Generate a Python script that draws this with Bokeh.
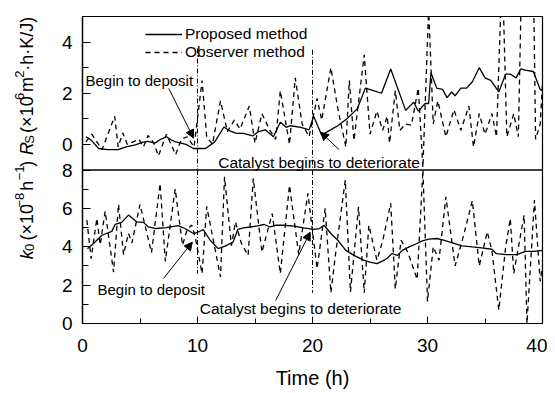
import math
from bokeh.plotting import figure
from bokeh.layouts import row
from bokeh.models import (Range1d, Legend, LegendItem, Arrow, NormalHead, Label, FixedTicker,
                          CustomJSTickFormatter, Span)
from bokeh.core.properties import value
from bokeh.embed import file_html
from bokeh.resources import INLINE

# ---- data ----
t_rs_prop = [0.3, 0.8, 1.4, 2.2, 3.1, 3.8, 4.6, 5.2, 5.7, 6.3, 6.8, 7.3, 7.7, 8.1, 9.0, 9.65, 10.7, 11.5,
             12.3, 12.7, 13.4, 14.0, 14.8, 15.3, 15.9, 16.6, 17.2, 17.7, 18.1, 19.0, 19.7, 20.1, 20.8, 21.3,
             22.2, 23.0, 23.9, 24.6, 25.3, 26.0, 26.8, 28.1, 28.8, 29.2, 29.8, 30.1, 30.3, 30.8, 31.3, 31.7,
             32.1, 32.4, 32.9, 33.4, 33.9, 34.5, 35.0, 35.5, 36.2, 36.8, 37.2, 37.7, 38.1, 38.5, 39.2, 39.8, 40.0]
rs_prop = [0.3, 0.15, -0.16, -0.2, -0.2, -0.1, -0.02, 0.08, 0.12, 0.05, 0.2, 0.3, 0.18, 0.1, 0.0, -0.16, -0.16, 0.1,
           0.68, 0.55, 0.43, 0.43, 0.33, 0.5, 0.57, 0.3, 0.87, 0.67, 0.73, 0.67, 0.57, 1.1, 0.36, 0.5,
           0.73, 1.0, 1.4, 2.2, 2.1, 2.0, 2.95, 1.33, 1.65, 1.3, 1.6, 1.6, 2.8, 2.2, 2.15, 1.83,
           2.05, 1.9, 2.2, 2.2, 2.45, 3.0, 2.6, 2.5, 2.05, 2.75, 2.75, 2.6, 2.95, 2.9, 2.85, 2.15, 2.1]

t_rs_obs = [0.3, 0.8, 1.7, 2.8, 3.1, 3.5, 3.9, 4.4, 4.9, 5.3, 5.7, 6.2, 6.6, 7.3, 8.1, 8.6, 9.1, 9.7, 10.4, 10.8,
            11.3, 12.0, 12.6, 13.2, 13.7, 14.5, 15.0, 15.6, 16.3, 16.8, 17.2, 18.0, 18.5, 19.1, 19.7, 20.4, 20.8,
            21.6, 22.2, 22.9, 23.2, 23.6, 24.5, 25.0, 25.6, 26.1, 26.5, 26.7, 27.2, 27.6, 28.1, 28.6, 29.2, 29.6,
            30.1, 30.5, 30.9, 31.6, 32.3, 32.9, 33.6, 34.0, 34.5, 35.0, 35.6, 36.0, 36.5, 36.9, 37.5, 37.9, 38.8,
            39.4, 39.8, 40.0]
rs_obs = [0.1, 0.4, -0.2, 1.1, -0.1, 0.45, 0.0, 0.1, 0.2, -0.1, 0.35, 0.05, -0.45, 0.4, -0.4, 0.2, 0.3, -0.1, 2.5, 0.3,
          0.0, 1.7, 0.5, 0.95, 0.6, 1.5, 0.05, 1.2, 0.55, 0.2, 2.1, 0.0, 2.6, 0.8, 0.3, 1.8, 0.95,
          3.0, 1.4, -0.1, 2.5, 0.15, 3.5, 0.4, 1.3, 0.55, 1.1, 0.05, 2.1, 0.55, 0.8, 0.75, 2.2, -0.9,
          5.3, 0.8, 1.7, 0.3, 1.35, 0.55, 1.5, -0.1, 1.2, 0.4, 1.2, 0.3, 7.0, 0.3, 1.2, 0.3, 20.0,
          0.2, 0.8, 2.4]

t_k0_prop = [0.43, 0.96, 1.68, 2.55, 2.84, 3.4, 4.0, 4.7, 5.3, 5.7, 6.4, 7.3, 8.3, 8.9, 9.65, 10.1, 10.5, 11.1,
             11.8, 12.4, 13.1, 13.5, 14.0, 14.6, 15.2, 15.8, 16.3, 16.8, 17.5, 18.4, 19.2, 20.1, 20.6, 21.0,
             21.6, 22.2, 22.9, 23.6, 24.5, 25.0, 25.6, 26.2, 26.5, 26.9, 27.4, 27.8, 28.4, 29.1, 29.5, 30.1,
             30.8, 31.4, 32.1, 33.0, 33.9, 34.7, 35.6, 36.0, 36.8, 37.8, 38.5, 39.2, 40.0]
k0_prop = [3.9, 4.17, 4.6, 4.8, 5.16, 5.27, 5.65, 5.3, 5.27, 5.04, 4.95, 5.0, 5.1, 4.95, 4.69, 4.77, 4.9, 4.34,
           3.9, 4.03, 4.25, 4.9, 4.98, 5.03, 5.09, 5.16, 5.03, 5.12, 5.12, 5.07, 4.98, 4.91, 4.95, 5.12,
           4.69, 4.34, 3.81, 3.55, 3.29, 3.2, 3.12, 3.29, 3.4, 3.64, 3.55, 3.81, 3.99, 4.17, 4.29, 4.4,
           4.43, 4.34, 4.22, 4.05, 3.99, 3.94, 3.87, 3.64, 3.59, 3.59, 3.76, 3.76, 3.81]

t_k0_obs = [0.38, 0.75, 1.25, 1.54, 1.97, 2.7, 3.13, 3.57, 4.0, 4.3, 5.0, 6.0, 6.75, 7.2, 8.06, 8.7, 9.1, 9.5, 9.8,
            10.4, 10.8, 12.0, 12.35, 12.95, 13.3, 13.8, 14.4, 14.85, 15.6, 16.5, 17.2, 18.0, 18.8, 19.6, 20.4,
            21.1, 21.6, 22.0, 22.85, 23.3, 24.0, 24.5, 24.9, 25.6, 26.1, 26.8, 27.2, 27.7, 28.3, 29.1, 29.6,
            30.0, 30.5, 31.0, 31.6, 32.4, 33.1, 33.9, 34.5, 35.2, 35.6, 36.2, 36.8, 37.2, 37.5, 38.4, 38.65,
            39.3, 39.8, 40.0]
k0_obs = [5.39, 3.38, 5.48, 4.1, 5.85, 2.68, 6.21, 3.59, 4.7, 4.2, 6.21, 3.69, 7.3, 3.24, 7.01, 4.08, 4.9, 5.13, 4.5,
          2.6, 6.1, 2.43, 7.65, 4.05, 5.3, 4.2, 3.55, 7.56, 3.72, 5.73, 2.6, 7.2, 3.6, 6.78, 2.86,
          6.0, 1.6, 3.6, 7.47, 1.64, 6.08, 1.6, 5.12, 3.3, 4.3, 6.26, 1.8, 4.34, 3.7, 2.3, 8.0,
          1.15, 4.0, 3.3, 6.6, 3.0, 4.5, 6.4, 3.0, 4.78, 3.8, 0.7, 4.0, 5.47, 2.6, 5.65, 0.0,
          6.43, 2.2, 3.0]

event_times = [10, 20]
rs_event_top = [3.75, 3.7]
k0_event_bottom = [2.6, 1.6]

x_ticks = [0, 10, 20, 30, 40]
x_minor = [5, 15, 25, 35]
rs_ticks = [0, 2, 4]
rs_minor = [1, 3, 5]
k0_ticks = [0, 2, 4, 6, 8]
k0_minor = [1, 3, 5, 7]

# title pieces: text, font style, size kind, vertical shift kind, gap before it (px)
rs_title = [("R", "italic", "main", "base", 0), ("S", "normal", "small", "sub", 0.5),
            ("(×10", "normal", "main", "base", 4.5), ("6", "normal", "small", "sup", 2.5),
            ("m", "normal", "main", "base", 2.5), ("2", "normal", "small", "sup", 2),
            ("·h·K/J)", "normal", "main", "base", 1)]
k0_title = [("k", "italic", "main", "base", 0), ("0", "normal", "small", "sub", 1),
            ("(×10", "normal", "main", "base", 5.5), ("−8", "normal", "small", "sup", 2.5),
            ("h", "normal", "main", "base", 5.5), ("−1", "normal", "small", "sup", 2.5),
            (")", "normal", "main", "base", 1.5)]

FONT = "Liberation Sans"
H = 392          # canvas height
LEFT_W = 48      # width of the strip holding the rotated axis titles

# Two stacked panels share one frame: Rs uses the top half of range (-7, 5),
# k0 uses the bottom half of range (0, 16).
RS_LO, RS_HI = -7, 5
K0_LO, K0_HI = 0, 16
RS_SPLIT = -1


def k0_to_rs(k):
    return RS_LO + (k - K0_LO) * (RS_HI - RS_LO) / (K0_HI - K0_LO)


p = figure(width=547 - LEFT_W, height=H, x_range=Range1d(0, 40), y_range=Range1d(RS_LO, RS_HI),
           output_backend="svg", toolbar_location=None,
           min_border_left=82 - LEFT_W, min_border_right=5, min_border_top=16, min_border_bottom=69)
p.extra_y_ranges = {"k0": Range1d(K0_LO, K0_HI)}
p.grid.visible = False
p.outline_line_color = "black"
p.outline_line_width = 1.2
p.background_fill_color = "white"
p.border_fill_color = "white"

ya = p.yaxis[0]
ya.ticker = FixedTicker(ticks=rs_ticks + [k0_to_rs(k) for k in k0_ticks],
                        minor_ticks=rs_minor + [k0_to_rs(k) for k in k0_minor])
ya.formatter = CustomJSTickFormatter(code="""
if (tick < -0.999) { return ((tick + 7) / 0.75).toFixed(0); }
return tick.toFixed(0);
""")
ya.major_tick_in = 8
ya.major_tick_out = 0
ya.minor_tick_in = 6
ya.minor_tick_out = 0
ya.major_label_standoff = 10
ya.major_label_text_font = FONT
ya.major_label_text_font_size = "19px"
ya.major_label_text_color = "black"
ya.axis_line_color = "black"
ya.axis_line_width = 1.3

xa = p.xaxis[0]
xa.ticker = FixedTicker(ticks=x_ticks, minor_ticks=x_minor)
xa.major_tick_in = 7
xa.major_tick_out = 0
xa.minor_tick_in = 5
xa.minor_tick_out = 0
xa.major_label_standoff = 15
xa.axis_label = "Time (h)"
xa.axis_label_standoff = 12
xa.major_label_text_font = FONT
xa.major_label_text_font_size = "19px"
xa.major_label_text_color = "black"
xa.axis_label_text_font = FONT
xa.axis_label_text_font_size = "20px"
xa.axis_label_text_font_style = "normal"
xa.axis_label_text_color = "black"
xa.axis_line_color = "black"

p.add_layout(Span(location=RS_SPLIT, dimension="width", line_color="black", line_width=1.3))

# ---- top panel: Rs ----
r1 = p.line(t_rs_prop, rs_prop, line_color="black", line_width=1.3)
r2 = p.line(t_rs_obs, rs_obs, line_color="black", line_width=1.3, line_dash="5 4")
p.segment(x0=event_times, y0=rs_event_top, x1=event_times, y1=[RS_SPLIT] * len(event_times),
          line_color="black", line_width=1, line_dash="5 2 1 2")

legend = Legend(items=[LegendItem(label="Proposed method", renderers=[r1]),
                       LegendItem(label="Observer method", renderers=[r2])],
                location=(63, 262), border_line_alpha=0, background_fill_alpha=0,
                padding=0, margin=0, spacing=0, glyph_width=37, glyph_height=18,
                label_height=18, label_standoff=3, label_text_font=FONT,
                label_text_font_size="15.5px", label_text_color="black")
p.add_layout(legend)

p.add_layout(Label(x=0.26, y=2.5, text="Begin to deposit", text_baseline="middle",
                   text_font=FONT, text_font_size="15px", text_color="black"))
p.add_layout(Arrow(end=NormalHead(size=8, fill_color="black", line_color="black"),
                   x_start=7.5, y_start=2.19, x_end=9.65, y_end=0.25, line_width=1))
p.add_layout(Label(x=11.8, y=-0.72, text="Catalyst begins to deteriorate", text_baseline="middle",
                   text_font=FONT, text_font_size="15.5px", text_color="black"))
p.add_layout(Arrow(end=NormalHead(size=8, fill_color="black", line_color="black"),
                   x_start=22.3, y_start=-0.2, x_end=20.7, y_end=0.48, line_width=1))

# ---- bottom panel: k0 ----
p.line(t_k0_prop, k0_prop, line_color="black", line_width=1.3, y_range_name="k0")
p.line(t_k0_obs, k0_obs, line_color="black", line_width=1.3, line_dash="5 4", y_range_name="k0")
p.segment(x0=event_times, y0=[8] * len(event_times), x1=event_times, y1=k0_event_bottom,
          line_color="black", line_width=1, line_dash="5 2 1 2", y_range_name="k0")

p.add_layout(Label(x=1.3, y=1.78, text="Begin to deposit", text_baseline="middle", y_range_name="k0",
                   text_font=FONT, text_font_size="15px", text_color="black"))
p.add_layout(Arrow(end=NormalHead(size=8, fill_color="black", line_color="black"),
                   x_start=7.05, y_start=2.35, x_end=9.55, y_end=4.24, line_width=1, y_range_name="k0"))
p.add_layout(Label(x=10.2, y=0.78, text="Catalyst begins to deteriorate", text_baseline="middle",
                   y_range_name="k0", text_font=FONT, text_font_size="15.5px", text_color="black"))
p.add_layout(Arrow(end=NormalHead(size=8, fill_color="black", line_color="black"),
                   x_start=16.8, y_start=1.2, x_end=19.8, y_end=4.76, line_width=1, y_range_name="k0"))

# ---- strip with the rotated y-axis titles (pixel coordinates, origin bottom-left) ----
t = figure(width=LEFT_W, height=H, x_range=Range1d(0, LEFT_W), y_range=Range1d(0, H),
           output_backend="svg", toolbar_location=None, x_axis_location=None, y_axis_location=None,
           min_border=0, outline_line_color=None)
t.grid.visible = False
t.background_fill_color = "white"
t.border_fill_color = "white"

W = {"R": .722, "S": .667, " ": .278, "(": .333, "×": .584, "1": .556, "0": .556, "6": .556, "m": .833,
     "2": .556, "·": .333, "h": .556, "K": .667, "/": .278, "J": .5, ")": .333, "k": .5, "−": .584, "8": .556}
WIDTH_FACTOR = 1.08
SIZES = {"main": 18, "small": 13}
SHIFT = {"base": 0, "sub": 3, "sup": -7}
BASE_X = 26


def rotated_title(pieces, start_from_top):
    pos = H - start_from_top
    for text, style, size_key, shift_key, gap in pieces:
        size = SIZES[size_key]
        pos += gap
        t.text(x=[BASE_X + SHIFT[shift_key]], y=[pos], text=[text], angle=math.pi / 2,
               text_align="left", text_baseline="alphabetic", text_font=value(FONT),
               text_font_size=value(f"{size}px"), text_font_style=value(style), text_color="black")
        pos += sum(W.get(c, .556) for c in text) * size * WIDTH_FACTOR


rotated_title(rs_title, 177)
rotated_title(k0_title, 310)

layout = row(t, p, spacing=0)
open("out.html", "w").write(file_html(layout, INLINE))
